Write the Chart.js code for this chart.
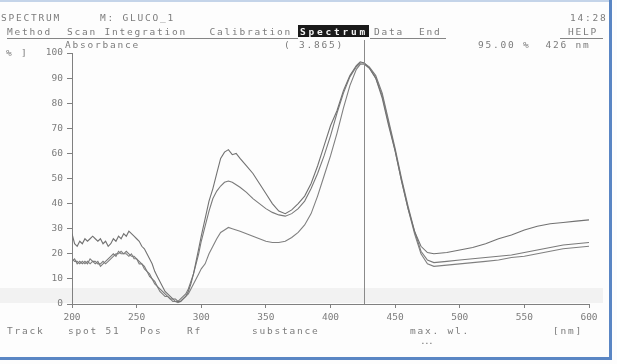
<!DOCTYPE html>
<html>
<head>
<meta charset="utf-8">
<script src="https://cdn.jsdelivr.net/npm/chart.js@4/dist/chart.umd.min.js"></script>
<style>
html,body{margin:0;padding:0;background:#fdfdfd;}
#wrap{position:relative;width:617px;height:364px;}
canvas{display:block;}
</style>
</head>
<body>
<div id="wrap"><canvas id="c" width="617" height="364"></canvas></div>
<script>
// ---- data ----
const wavelengths = [200,202,204,206,208,210,212,214,216,218,220,222,224,226,228,230,232,234,236,238,240,242,244,246,248,250,252,254,256,258,260,262,264,266,268,270,272,274,276,278,280,282,284,286,288,290,292,294,296,298,300,
303,306,309,312,315,318,321,324,327,330,335,340,345,350,355,360,365,370,375,380,385,390,395,400,405,410,415,420,423,426,430,435,440,445,450,455,460,465,470,475,480,490,500,510,520,530,540,550,560,570,580,590,600];

const trackA = [28,24,23,25,24,26,25,26,27,26,25,26,24,25,23,24,26,25,27,26,28,27,29,28,27,26,25,23,22,20,18,16,13,11,9,7,5,4,3,2,2,1,1,2,3,5,8,12,17,22,27,
34,41,46,52,58,60.5,61.5,59.5,60,58,55,52,48,44,40,37,36,37.5,40,43,48,55,63,71,77,85,91,95,96.5,96,94,90,82,71,61,49,38,29,23,20.5,20,20.5,21.5,22.5,24,26,27.5,29.5,31,32,32.5,33,33.5];

const trackB = [17,18,16,17,16,17,16,18,17,16,17,15,16,17,18,19,20,19,21,20,20,21,20,19,19,18,17,16,15,13,12,10,9,7,6,5,4,3,2,2,1,1,2,3,4,6,9,12,16,20,25,
31,37,42,45,47,48.5,49,48.5,47.5,46.5,44.5,42,40,38,36.5,35.5,35,36,38,41,46,52,59,67,76,84,90.5,94.5,96,96,94.5,91,84,73,62,50,39,29,21,17.5,16.5,17,17.5,18,18.5,19,19.5,20.5,21.5,22.5,23.5,24,24.5];

const trackC = [18,17,17,16,17,16,17,16,17,17,16,16,17,16,17,18,19,20,20,21,20,20,19,20,18,18,16,16,14,13,11,10,8,7,5,4,3,3,2,1,1,0.5,1,2,3,4,6,8,10,12,14,
16,20,23,26,28.5,29.5,30.5,30,29.5,29,28,27,26,25,24.5,24.5,25,26.5,28.5,31.5,36,43,51,59,68,78,87,93.5,95.5,95.5,94,90,83,72,61,49,38,28,20,16,15,15.5,16,16.5,17,17.5,18.5,19,20,21,22,22.5,23];

const xTicks = [200,250,300,350,400,450,500,550,600];
const yTicks = [0,10,20,30,40,50,60,70,80,90,100];
const cursorNm = 426;

// ---- header / footer text ----
const headerLine1 = "SPECTRUM";
const headerMethod = "M: GLUCO_1";
const headerTime = "14:28";
const menuLeft = "Method  Scan Integration   Calibration";
const menuActive = "Spectrum";
const menuRight = "Data  End";
const menuHelp = "HELP";
const absLabel = "Absorbance";
const absValue = "( 3.865)";
const cursorReadout = "95.00 %  426 nm";
const yUnit = "% ]";
const footer = [["Track",7],["spot 51",68],["Pos",140],["Rf",187],["substance",252],["max. wl.",410],["[nm]",553]];

function toPts(arr){ return wavelengths.map((w,i)=>({x:w,y:arr[i]})); }

const FONT = '9.5px "DejaVu Sans Mono", "Liberation Mono", monospace';
const TXT = '#7c7c7c';
function mono(ctx, s, x, y, pitch){
  pitch = pitch || 7.5;
  for(let i=0;i<s.length;i++){ ctx.fillText(s[i], x + i*pitch, y); }
}

const decor = {
  id:'decor',
  beforeDraw(chart){
    const ctx = chart.ctx;
    ctx.save();
    ctx.fillStyle = '#fdfdfd';
    ctx.fillRect(0,0,chart.width,chart.height);
    ctx.fillStyle = 'rgba(0,0,0,0.045)';
    ctx.fillRect(0,288,603,15);
    ctx.restore();
  },
  afterDraw(chart){
    const ctx = chart.ctx;
    const xs = chart.scales.x, ys = chart.scales.y;
    ctx.save();
    const cx = Math.round(xs.getPixelForValue(cursorNm))+0.5;
    ctx.strokeStyle = '#8a8a8a'; ctx.lineWidth = 1;
    ctx.beginPath(); ctx.moveTo(cx, 40); ctx.lineTo(cx, ys.getPixelForValue(0)); ctx.stroke();

    ctx.font = FONT; ctx.fillStyle = TXT; ctx.textBaseline = 'alphabetic'; ctx.textAlign='left';
    mono(ctx, headerLine1, 1, 21);
    mono(ctx, headerMethod, 100, 21);
    mono(ctx, headerTime, 570, 21);
    mono(ctx, menuLeft, 7, 35);
    ctx.fillStyle = '#1a1a1a';
    ctx.fillRect(298, 25, 71, 12);
    ctx.fillStyle = '#f4f4f4';
    ctx.font = 'bold 9.5px "DejaVu Sans Mono", monospace';
    mono(ctx, menuActive, 300, 35, 8.5);
    ctx.font = FONT; ctx.fillStyle = TXT;
    mono(ctx, menuRight, 374, 35);
    mono(ctx, menuHelp, 568, 35);
    ctx.strokeStyle = '#858585'; ctx.lineWidth = 1;
    ctx.beginPath();
    ctx.moveTo(7,38.5); ctx.lineTo(298,38.5);
    ctx.moveTo(370,38.5); ctx.lineTo(446,38.5);
    ctx.moveTo(560,38.5); ctx.lineTo(603,38.5);
    ctx.stroke();
    mono(ctx, absLabel, 65, 48);
    mono(ctx, absValue, 284, 48);
    mono(ctx, cursorReadout, 478, 48);
    mono(ctx, yUnit, 6, 56);
    footer.forEach(([t,x])=>mono(ctx, t, x, 334));
    mono(ctx, "...", 420, 344, 4);

    ctx.fillStyle = '#5a86c4';
    ctx.fillRect(609, 0, 3, 360);
    ctx.fillRect(0, 357, 612, 3);
    ctx.fillStyle = 'rgba(90,134,196,0.35)';
    ctx.fillRect(0,0,612,2);
    ctx.restore();
  }
};

new Chart(document.getElementById('c'), {
  type:'line',
  data:{
    datasets:[trackA,trackB,trackC].map((arr,i)=>({
      data: toPts(arr),
      borderColor: ['#727272','#7a7a7a','#808080'][i],
      borderWidth: 1.1,
      pointRadius: 0,
      tension: 0,
      fill:false
    }))
  },
  options:{
    responsive:false,
    animation:false,
    events:[],
    layout:{padding:{left:0,top:53,right:28,bottom:0}},
    plugins:{legend:{display:false},tooltip:{enabled:false},title:{display:false}},
    scales:{
      x:{
        type:'linear', min:200, max:600,
        afterFit(s){ s.height = 60; },
        afterBuildTicks(s){ s.ticks = xTicks.map(v=>({value:v})); },
        border:{color:'#808080', width:1},
        grid:{drawOnChartArea:false, drawTicks:true, tickLength:4, color:'#808080'},
        ticks:{font:{family:'"DejaVu Sans Mono", monospace', size:9.5}, color:'#7c7c7c', padding:4, maxRotation:0, autoSkip:false}
      },
      y:{
        min:0, max:100,
        afterFit(s){ s.width = 72; },
        afterBuildTicks(s){ s.ticks = yTicks.map(v=>({value:v})); },
        border:{color:'#808080', width:1},
        grid:{drawOnChartArea:false, drawTicks:true, tickLength:5, color:'#808080'},
        ticks:{font:{family:'"DejaVu Sans Mono", monospace', size:9.5}, color:'#7c7c7c', padding:4}
      }
    }
  },
  plugins:[decor]
});
</script>
</body>
</html>
